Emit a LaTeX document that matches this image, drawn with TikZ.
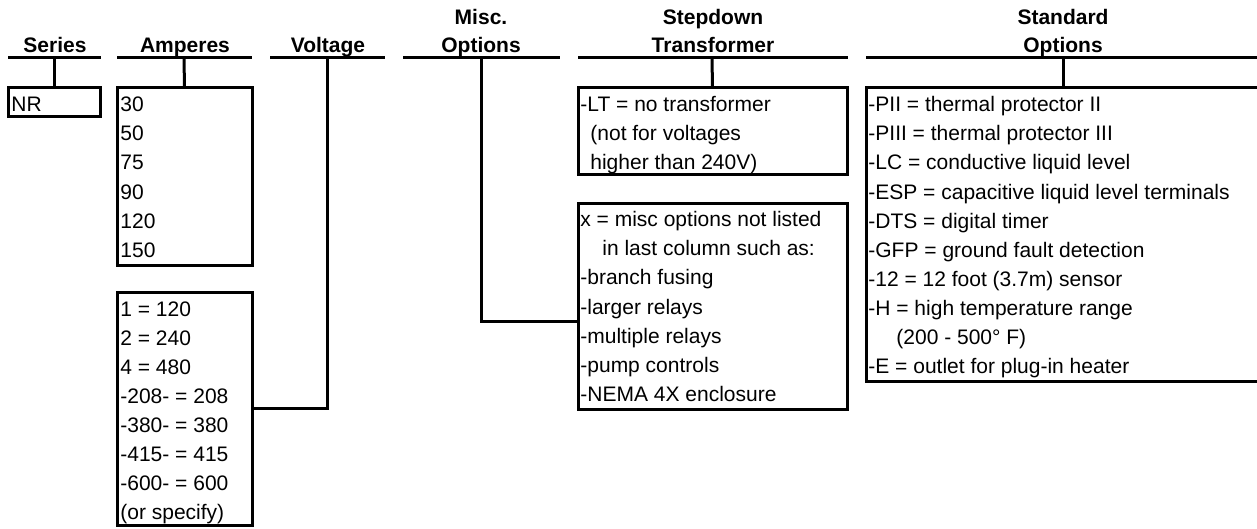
\documentclass[tikz,border=0pt]{standalone}
\usepackage{fontspec}
\setmainfont{Liberation Sans}
\tikzset{
  head/.style={font=\bfseries\fontsize{10.5}{14}\selectfont,align=center,
    anchor=base,inner sep=0pt},
  rule/.style={line width=1.5pt},
  optbox/.style={draw,line width=1.5pt,inner sep=0pt,outer sep=0pt,
    anchor=north west},
  item/.style={font=\fontsize{10.5}{12.6}\selectfont,anchor=base west,
    inner sep=0pt},
  link/.style={line width=1.5pt}
}
\begin{document}
\begin{tikzpicture}[x=0.5pt,y=-0.5pt]
  \useasboundingbox (0,0) rectangle (1257,529);
  % column heads
  \node[head] (hSer) at (55,53) {Series};
  \node[head] (hAmp) at (185,53) {Amperes};
  \node[head] (hVolt) at (328,53) {Voltage};
  \node[head] (hMisc) at (481,53) {Misc.\\Options};
  \node[head] (hStep) at (713,53) {Stepdown\\Transformer};
  \node[head] (hStd) at (1063,53) {Standard\\Options};
  \draw[rule] (8,58) -- (101,58);
  \draw[rule] (117,58) -- (252,58);
  \draw[rule] (270,58) -- (385,58);
  \draw[rule] (403,58) -- (560,58);
  \draw[rule] (578,58) -- (848,58);
  \draw[rule] (866,58) -- (1257,58);
  \coordinate (tSer) at (54,58);
  \coordinate (tAmp) at (184,58);
  \coordinate (tVolt) at (327,58);
  \coordinate (tMisc) at (481,58);
  \coordinate (tStep) at (712,58);
  \coordinate (tStd) at (1063,58);
  % boxes
  \node[optbox,minimum width=46pt,minimum height=14.5pt] (nr) at (8,88) {};
  \node[optbox,minimum width=67.5pt,minimum height=88.5pt] (amp) at (117,88) {};
  \node[optbox,minimum width=67.5pt,minimum height=116.5pt] (volt) at (117,292) {};
  \node[optbox,minimum width=134.5pt,minimum height=43.5pt] (step) at (578,88) {};
  \node[optbox,minimum width=134.5pt,minimum height=102.5pt] (misc) at (578,204) {};
  \node[optbox,minimum width=197pt,minimum height=146.5pt] (std) at (866,88) {};
  % entries
  \node[item] (nr0) at (11,112) {NR};
  \foreach \t [count=\i from 0] in {30,50,75,90,120,150}
    \node[item] (amp\i) at (120,112+29*\i) {\t};
  \foreach \t [count=\i from 0] in {1 = 120,2 = 240,4 = 480,-208- = 208,
      -380- = 380,-415- = 415,-600- = 600,{(or specify)}}
    \node[item] (volt\i) at (120,316+29*\i) {\t};
  \foreach \t [count=\i from 0] in {-LT = no transformer,
      \hspace*{5pt}{(not for voltages},\hspace*{5pt}higher than 240V)}
    \node[item] (step\i) at (580,112+29*\i) {\t};
  \foreach \t [count=\i from 0] in {x = misc options not listed,
      \hspace*{11pt}in last column such as:,-branch fusing,-larger relays,
      -multiple relays,-pump controls,-NEMA 4X enclosure}
    \node[item] (misc\i) at (580,227+29*\i) {\t};
  \foreach \t [count=\i from 0] in {-PII = thermal protector II,
      -PIII = thermal protector III,-LC = conductive liquid level,
      -ESP = capacitive liquid level terminals,-DTS = digital timer,
      -GFP = ground fault detection,-12 = 12 foot (3.7m) sensor,
      -H = high temperature range,\hspace*{14pt}(200 - 500° F),
      -E = outlet for plug-in heater}
    \node[item] (std\i) at (868,112+29*\i) {\t};
  % links
  \draw[link] (tSer) -- (nr.north);
  \draw[link] (tAmp) -- (amp.north);
  \draw[link] (tVolt) |- (volt.east);
  \draw[link] (tMisc) |- ([yshift=-7.5pt]misc.west);
  \draw[link] (tStep) -- (step.north);
  \draw[link] (tStd) -- (std.north);
\end{tikzpicture}
\end{document}
